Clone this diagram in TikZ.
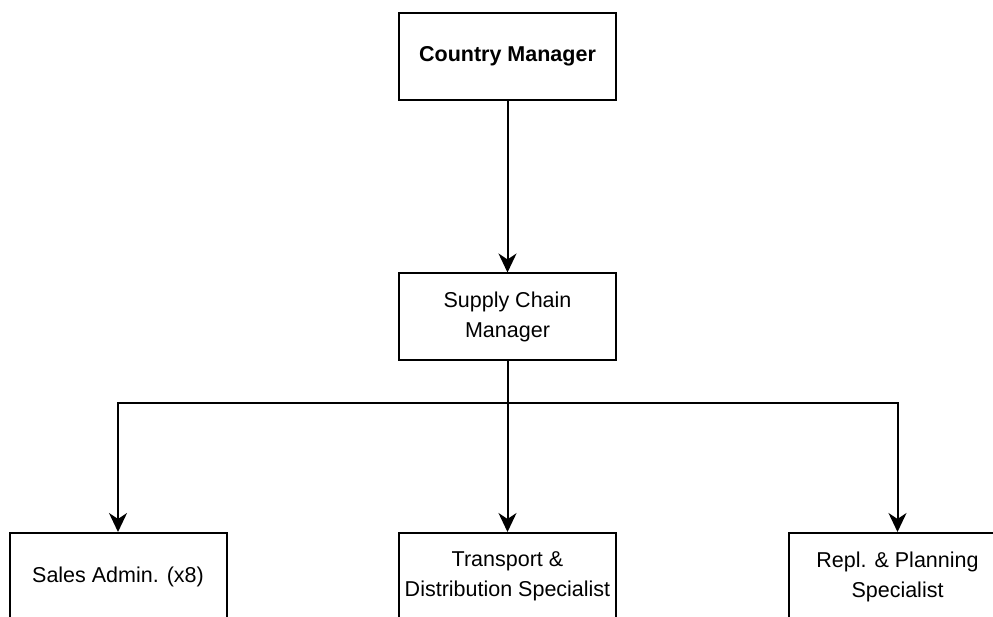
\documentclass[tikz,border=0pt]{standalone}
\usepackage{fontspec}
\setmainfont{Liberation Sans}
\usetikzlibrary{arrows.meta}
\begin{document}
\begin{tikzpicture}[x=1pt,y=-1pt,
  box/.style={draw, line width=2pt, minimum width=217pt, minimum height=87pt, inner sep=0pt, align=center, font=\fontsize{21.5}{30}\selectfont},
  link/.style={line width=2pt, -{Stealth[length=19pt,width=18pt,inset=6pt]}}]
\useasboundingbox (0,0) rectangle (993,617);
\node[box, font=\fontsize{21.5}{30}\selectfont\bfseries] (cm) at (507.5,56.5) {Country Manager};
\node[box] (scm) at (507.5,317) {Supply Chain\\Manager};
\node[box] (sa) at (118,576.5) {Sales Admin. (x8)};
\node[box] (tds) at (507.5,576.5) {Transport \&\\Distribution Specialist};
\node[box] (rps) at (897.5,576.5) {Repl. \& Planning\\Specialist};
\coordinate (split) at (507.5,403);
\draw[link] (cm) -- (scm);
\draw[link] (scm) -- (tds);
\draw[link] (scm.south) -- (split) -| (sa.north);
\draw[link] (scm.south) -- (split) -| (rps.north);
\end{tikzpicture}
\end{document}
